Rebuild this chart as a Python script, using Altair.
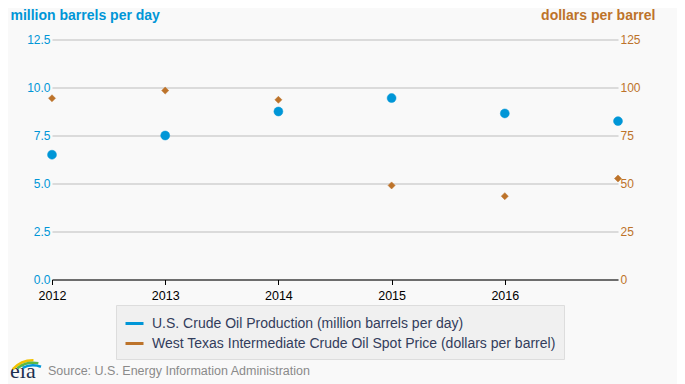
import altair as alt
import pandas as pd

years = [2012, 2013, 2014, 2015, 2016, 2017]
production = [6.5, 7.5, 8.75, 9.45, 8.65, 8.25]
wti_price = [94.4, 98.4, 93.6, 49.0, 43.4, 52.6]
tick_years = [2012, 2013, 2014, 2015, 2016]
left_ticks = [0, 2.5, 5, 7.5, 10, 12.5]
right_ticks = [0, 25, 50, 75, 100, 125]

s_prod = "U.S. Crude Oil Production (million barrels per day)"
s_wti = "West Texas Intermediate Crude Oil Spot Price (dollars per barrel)"

BLUE = "#0096d7"
ORANGE = "#bd732a"

df_prod = pd.DataFrame({"year": years, "value": production, "series": s_prod})
df_wti = pd.DataFrame({"year": years, "value": wti_price, "series": s_wti})

x_enc = alt.X(
    "year:Q",
    scale=alt.Scale(domain=[2012, 2017], nice=False, zero=False),
    axis=alt.Axis(
        values=tick_years, format="d", title=None, grid=False,
        domainColor="#000", tickColor="#000", tickSize=5,
        labelColor="#000", labelFontSize=12.5, labelPadding=5,
        labelFont="Liberation Sans", labelFlush=False,
    ),
)

series_scale = alt.Scale(domain=[s_prod, s_wti], range=[BLUE, ORANGE])

stroke_enc = alt.Stroke(
    "series:N",
    scale=series_scale,
    legend=alt.Legend(
        title=None, orient="none", legendX=64, legendY=265.5,
        symbolType="stroke", symbolSize=324, symbolStrokeWidth=3,
        labelFontSize=14, labelFont="Liberation Sans", labelColor="#333d5c",
        labelOffset=7, rowPadding=2, padding=8, labelLimit=600,
        fillColor="#f0f0f0", strokeColor="#dddddd",
    ),
)

prod_layer = alt.Chart(df_prod).mark_point(
    shape="circle", filled=True, fill=BLUE, size=80, opacity=1, strokeWidth=0.5
).encode(
    x=x_enc,
    y=alt.Y(
        "value:Q",
        scale=alt.Scale(domain=[0, 12.5], nice=False),
        axis=alt.Axis(
            values=left_ticks, format=".1f", orient="left",
            title="million barrels per day", titleAngle=0, titleAlign="left",
            titleBaseline="alphabetic", titleX=-42, titleY=-20,
            titleColor=BLUE, titleFontSize=14, titleFontWeight="bold",
            titleFont="Liberation Sans",
            domain=False, ticks=False, grid=True, gridColor="#bdbdbd",
            labelColor=BLUE, labelFontSize=12, labelPadding=2,
            labelFont="Liberation Sans",
        ),
    ),
    stroke=stroke_enc,
)

wti_layer = alt.Chart(df_wti).mark_point(
    shape="diamond", filled=True, fill=ORANGE, size=50, opacity=1, strokeWidth=0.5
).encode(
    x=x_enc,
    y=alt.Y(
        "value:Q",
        scale=alt.Scale(domain=[0, 125], nice=False),
        axis=alt.Axis(
            values=right_ticks, format="d", orient="right",
            title="dollars per barrel", titleAngle=0, titleAlign="right",
            titleBaseline="alphabetic", titleX=37, titleY=-20,
            titleColor=ORANGE, titleFontSize=14, titleFontWeight="bold",
            titleFont="Liberation Sans",
            domain=False, ticks=False, grid=False,
            labelColor=ORANGE, labelFontSize=12, labelPadding=2,
            labelFont="Liberation Sans",
        ),
    ),
    stroke=stroke_enc,
)

source = alt.Chart(pd.DataFrame({"t": ["Source: U.S. Energy Information Administration"]})).mark_text(
    align="left", baseline="middle", fontSize=12.5, font="Liberation Sans", color="#8a8a8a"
).encode(text="t:N", x=alt.value(-4), y=alt.value(331.5))

logo = alt.Chart(pd.DataFrame({"t": ["eia"]})).mark_text(
    align="left", baseline="alphabetic", fontSize=22, font="Liberation Serif", color="#1d2f4f"
).encode(text="t:N", x=alt.value(-42), y=alt.value(338))

logo_arcs = [
    ("#f2c200", 26, 28.5, 5.45, 6.3),
    ("#58b947", 23.5, 26, 5.6, 6.5),
    ("#0096d7", 21, 23.5, 5.8, 6.65),
]
arc_layers = [
    alt.Chart(pd.DataFrame({"a": [0]})).mark_arc(
        radius=r1, radius2=r2, theta=t1, theta2=t2, color=c
    ).encode(x=alt.value(-19), y=alt.value(348))
    for c, r2, r1, t1, t2 in logo_arcs
]

chart = alt.layer(prod_layer, wti_layer, source, logo, *arc_layers).resolve_scale(
    y="independent"
).properties(
    width=566, height=240,
    autosize=alt.AutoSizeParams(type="none"),
    padding={"left": 44, "top": 31.5, "right": 59, "bottom": 104},
    background="#f9f9f9",
).configure_view(stroke=None)

chart.save("out.html", embed_options={"renderer": "svg", "actions": False})
